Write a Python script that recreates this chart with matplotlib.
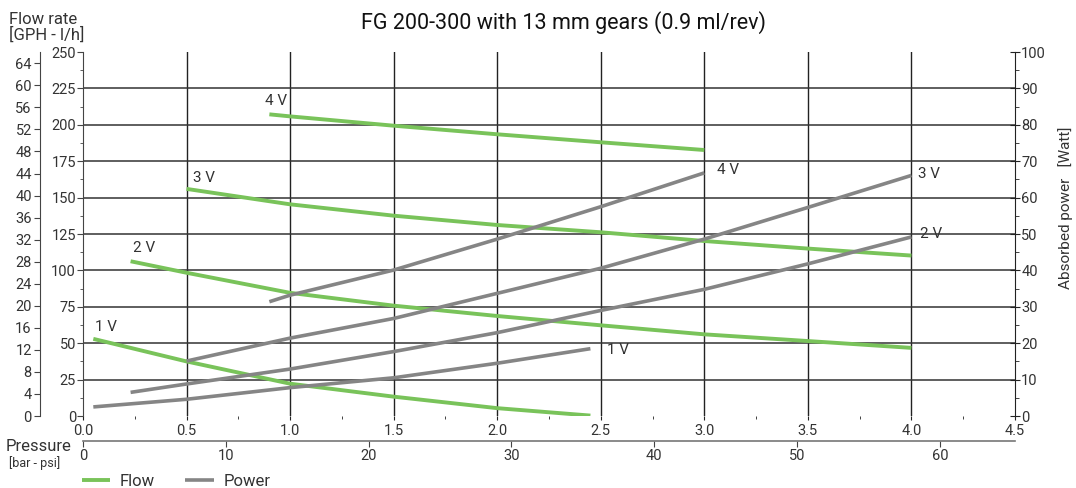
import matplotlib
matplotlib.use("Agg")
import matplotlib.pyplot as plt
from matplotlib.ticker import MultipleLocator, FixedLocator

plt.rcParams['font.family'] = ['Roboto', 'DejaVu Sans']

# ------------------------------------------------------------
# Data (pressure in bar)
# ------------------------------------------------------------
flow_p = {
    "1 V": [0.05, 0.5, 1.0, 1.5, 2.0, 2.45],
    "2 V": [0.23, 0.5, 1.0, 1.5, 2.0, 2.5, 3.0, 3.5, 4.0],
    "3 V": [0.5, 1.0, 1.5, 2.0, 2.5, 3.0, 3.5, 4.0],
    "4 V": [0.9, 1.0, 1.5, 2.0, 2.5, 3.0],
}
# flow rate [l/h]
flow_q = {
    "1 V": [53.0, 37.5, 22.2, 13.3, 5.4, 0.3],
    "2 V": [106.3, 98.4, 84.6, 75.8, 68.7, 62.3, 56.1, 51.5, 46.8],
    "3 V": [156.0, 145.4, 137.6, 131.2, 126.2, 120.2, 115.0, 110.2],
    "4 V": [207.2, 205.8, 199.4, 193.5, 188.0, 182.7],
}
power_p = {
    "1 V": [0.05, 0.5, 1.0, 1.5, 2.0, 2.45],
    "2 V": [0.23, 0.5, 1.0, 1.5, 2.0, 2.5, 3.0, 3.5, 4.0],
    "3 V": [0.5, 1.0, 1.5, 2.0, 2.5, 3.0, 3.5, 4.0],
    "4 V": [0.9, 1.0, 1.5, 2.0, 2.5, 3.0],
}
# absorbed power [W]
power_w = {
    "1 V": [2.5, 4.6, 7.8, 10.5, 14.5, 18.5],
    "2 V": [6.5, 8.8, 12.9, 17.7, 22.9, 29.0, 34.8, 41.8, 49.2],
    "3 V": [15.1, 21.4, 26.8, 33.7, 40.6, 48.6, 57.3, 66.1],
    "4 V": [31.4, 33.2, 40.1, 48.6, 57.5, 66.8],
}

bar_ticks = [0.0, 0.5, 1.0, 1.5, 2.0, 2.5, 3.0, 3.5, 4.0, 4.5]
psi_ticks = [0, 10, 20, 30, 40, 50, 60]
gph_ticks = [0, 4, 8, 12, 16, 20, 24, 28, 32, 36, 40, 44, 48, 52, 56, 60, 64]

GREEN = "#79c35a"
GREY = "#858585"
TXT = "#333333"
BAR_TO_PSI = 14.5038
LH_PER_GPH = 3.785

# ------------------------------------------------------------
# Figure
# ------------------------------------------------------------
fig = plt.figure(figsize=(10.76, 4.88), dpi=100)
ax = fig.add_axes([0.0771, 0.1475, 0.8662, 0.7459])
ax.set_xlim(0, 4.5)
ax.set_ylim(0, 250)

# grid
for x in bar_ticks[1:-1]:
    ax.axvline(x, color="#222222", lw=1.0, zorder=1)
for y in range(25, 250, 25):
    ax.axhline(y, color="#333333", lw=1.1, zorder=1)

for sp in ["top", "bottom"]:
    ax.spines[sp].set_visible(False)
ax.spines["right"].set_visible(False)
ax.spines["left"].set_color("#444444")

ax.xaxis.set_major_locator(FixedLocator(bar_ticks))
ax.set_xticklabels([f"{t:.1f}" for t in bar_ticks])
ax.xaxis.set_minor_locator(FixedLocator([0.25 + 0.5 * i for i in range(9)]))
ax.tick_params(axis="x", which="major", length=3, color="#222222",
               labelsize=10.5, labelcolor=TXT, pad=3)
ax.tick_params(axis="x", which="minor", length=2.5, color="#222222")
ax.yaxis.set_major_locator(MultipleLocator(25))
ax.yaxis.set_minor_locator(MultipleLocator(12.5))
ax.tick_params(axis="y", which="major", length=4, color="#444444",
               labelsize=10.5, labelcolor=TXT, pad=1)
ax.tick_params(axis="y", which="minor", length=2.5, color="#444444")

# flow curves
for k in flow_p:
    fl, = ax.plot(flow_p[k], flow_q[k], color=GREEN, lw=2.8,
                  solid_capstyle="butt", zorder=3)
flow_labels = {"1 V": (0.06, 61), "2 V": (0.24, 115.4), "3 V": (0.53, 163.5), "4 V": (0.88, 216.3)}
for k, (x, y) in flow_labels.items():
    ax.text(x, y, k, fontsize=11, color=TXT, ha="left", va="center")

# power on right axis
axp = ax.twinx()
axp.set_ylim(0, 100)
for sp in ["top", "bottom", "left"]:
    axp.spines[sp].set_visible(False)
axp.spines["right"].set_color("#222222")
axp.yaxis.set_major_locator(MultipleLocator(10))
axp.yaxis.set_minor_locator(MultipleLocator(5))
axp.tick_params(axis="y", which="major", direction="inout", length=7,
                labelsize=10.5, labelcolor=TXT, pad=1, color="#222222")
axp.tick_params(axis="y", which="minor", length=3, color="#222222")
for k in power_p:
    pw, = axp.plot(power_p[k], power_w[k], color=GREY, lw=2.6,
                   solid_capstyle="butt", zorder=3)
power_labels = {"1 V": (2.53, 18.1), "2 V": (4.04, 49.9), "3 V": (4.03, 66.6), "4 V": (3.06, 67.6)}
for k, (x, y) in power_labels.items():
    axp.text(x, y, k, fontsize=11, color=TXT, ha="left", va="center")
fig.text(1066 / 1076, 1 - 208 / 488, "Absorbed power   [Watt]", fontsize=11,
         color=TXT, rotation=90, ha="center", va="center")

# GPH axis on the far left
axg = ax.twinx()
axg.set_ylim(0, 250 / LH_PER_GPH)
for sp in ["top", "bottom", "right"]:
    axg.spines[sp].set_visible(False)
axg.spines["left"].set_visible(True)
axg.spines["left"].set_position(("axes", -0.046))
axg.spines["left"].set_color("#444444")
axg.yaxis.set_ticks_position("left")
axg.yaxis.set_label_position("left")
axg.yaxis.set_major_locator(FixedLocator(gph_ticks))
axg.tick_params(axis="y", length=4, labelsize=10.5, labelcolor=TXT,
                pad=2, color="#444444")

# psi axis below
axs = ax.twiny()
axs.set_xlim(0, 4.5 * BAR_TO_PSI)
for sp in ["top", "left", "right"]:
    axs.spines[sp].set_visible(False)
axs.spines["bottom"].set_visible(True)
axs.spines["bottom"].set_position(("outward", 18))
axs.spines["bottom"].set_color("#777777")
axs.spines["bottom"].set_linewidth(1.2)
axs.xaxis.set_ticks_position("bottom")
axs.xaxis.set_major_locator(FixedLocator(psi_ticks))
axs.tick_params(axis="x", length=4, labelsize=10.5, labelcolor=TXT,
                pad=2, color="#444444")

# texts
fig.text(0.524, 0.953, "FG 200-300 with 13 mm gears (0.9 ml/rev)",
         fontsize=15.5, color="#111111", ha="center", va="center")
fig.text(0.008, 0.96, "Flow rate", fontsize=12, color=TXT, ha="left", va="center")
fig.text(0.008, 0.928, "[GPH - l/h]", fontsize=12, color=TXT, ha="left", va="center")
fig.text(0.005, 0.085, "Pressure", fontsize=12, color=TXT, ha="left", va="center")
fig.text(0.008, 0.051, "[bar - psi]", fontsize=9, color=TXT, ha="left", va="center")

fig.legend(handles=[fl, pw], labels=["Flow", "Power"], loc="center left",
           bbox_to_anchor=(0.076, 1 - 481 / 488), ncol=2, frameon=False,
           fontsize=12, handlelength=1.7, handletextpad=0.6,
           columnspacing=1.8, borderpad=0, borderaxespad=0, labelcolor=TXT)

fig.savefig("out.png", dpi=100)
